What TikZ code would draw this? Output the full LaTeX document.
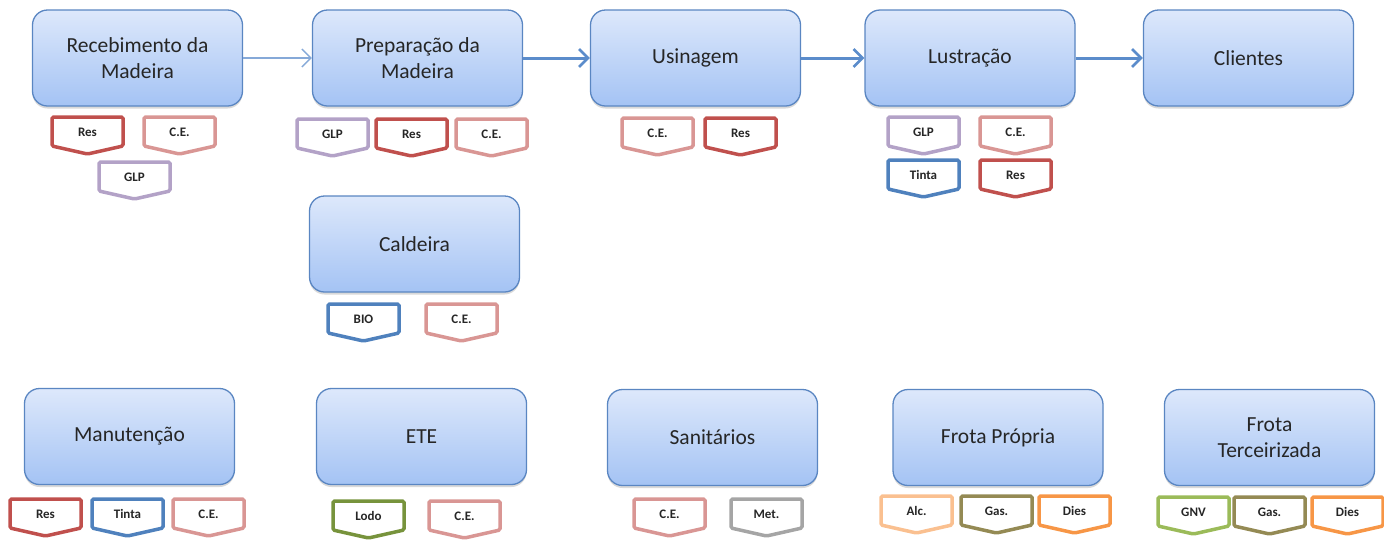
\documentclass[tikz,border=0pt]{standalone}
\usepackage{fontspec}
\setmainfont{Carlito}
\usetikzlibrary{arrows.meta,shadows}

\definecolor{boxedge}{HTML}{5A86C2}
\definecolor{boxtop}{HTML}{DDE8FB}
\definecolor{boxbot}{HTML}{A4C3F4}
\definecolor{flow}{HTML}{5B8CCB}
\definecolor{flowlight}{HTML}{86A9D8}
\definecolor{cRes}{HTML}{C0504D}
\definecolor{cCE}{HTML}{D99694}
\definecolor{cGLP}{HTML}{B3A2C7}
\definecolor{cBlue}{HTML}{4F81BD}
\definecolor{cLodo}{HTML}{77933C}
\definecolor{cMet}{HTML}{A5A5A5}
\definecolor{cAlc}{HTML}{FAC090}
\definecolor{cGas}{HTML}{948A54}
\definecolor{cDies}{HTML}{F79646}
\definecolor{cGNV}{HTML}{9BBB59}

\tikzset{
  process/.style={draw=boxedge, line width=1.3pt, rounded corners=15pt,
    top color=boxtop, bottom color=boxbot,
    minimum width=210pt, minimum height=96pt, align=center,
    font=\fontsize{21.5}{26}\selectfont, text=black!85,
    drop shadow={shadow xshift=0pt, shadow yshift=-2.5pt, opacity=.25, fill=black!60}},
  tagline/.style={line width=3.5pt, rounded corners=1.5pt, fill=white},
  tagtext/.style={font=\bfseries\fontsize{13}{15}\selectfont, text=black!85, inner sep=0pt},
  flowthin/.style={draw=flowlight, line width=1.2pt, -{Straight Barb[length=9pt,width=18pt,line width=1.4pt]}},
  flowthick/.style={draw=flow, line width=3pt, -{Straight Barb[length=9pt,width=18pt,line width=2.6pt]}}
}

% waste / energy tag: #1 name, #2 left x, #3 top y, #4 colour, #5 label
\newcommand\wastetag[5]{%
  \draw[tagline, draw=#4] (#2,#3) -- ++(71,0) -- ++(0,29) -- ++(-35.5,8) -- ++(-35.5,-8) -- cycle;
  \node[tagtext] (#1) at (#2+35.5,#3+15) {#5};
}

\begin{document}
\begin{tikzpicture}[x=1pt,y=-1pt]
\useasboundingbox (0,0) rectangle (1384,539);
\clip (0,0) rectangle (1384,539);

% process boxes
\node[process] (receb) at (137.5,58) {Recebimento da\\Madeira};
\node[process] (prep)  at (417.5,58) {Preparação da\\Madeira};
\node[process] (usin)  at (695.5,58) {Usinagem};
\node[process] (lust)  at (970,58)   {Lustração};
\node[process] (cli)   at (1248.5,58) {Clientes};
\node[process] (cald)  at (414.5,244) {Caldeira};
\node[process] (manut) at (129.5,436.5) {Manutenção};
\node[process] (ete)   at (421.5,436.5) {ETE};
\node[process] (sanit) at (712.5,437.5) {Sanitários};
\node[process] (frotap) at (998,437.5) {Frota Própria};
\node[process] (frotat) at (1269.5,437.5) {Frota\\Terceirizada};

% material flow
\draw[flowthin]  (receb.east) -- (prep.west);
\draw[flowthick] (prep.east) -- (usin.west);
\draw[flowthick] (usin.east) -- (lust.west);
\draw[flowthick] (lust.east) -- (cli.west);

% tags below each process
\wastetag{t1a}{52}{117}{cRes}{Res}
\wastetag{t1b}{144}{117}{cCE}{C.E.}
\wastetag{t1c}{99}{162}{cGLP}{GLP}

\wastetag{t2a}{297}{119}{cGLP}{GLP}
\wastetag{t2b}{376}{119}{cRes}{Res}
\wastetag{t2c}{456}{119}{cCE}{C.E.}

\wastetag{t3a}{622}{118}{cCE}{C.E.}
\wastetag{t3b}{705}{118}{cRes}{Res}

\wastetag{t4a}{888}{117}{cGLP}{GLP}
\wastetag{t4b}{980}{117}{cCE}{C.E.}
\wastetag{t4c}{888}{160}{cBlue}{Tinta}
\wastetag{t4d}{980}{160}{cRes}{Res}

\wastetag{t6a}{328}{304}{cBlue}{BIO}
\wastetag{t6b}{426}{304}{cCE}{C.E.}

\wastetag{t7a}{10}{499}{cRes}{Res}
\wastetag{t7b}{92}{499}{cBlue}{Tinta}
\wastetag{t7c}{173}{499}{cCE}{C.E.}

\wastetag{t8a}{333}{501}{cLodo}{Lodo}
\wastetag{t8b}{429}{501}{cCE}{C.E.}

\wastetag{t9a}{634}{499}{cCE}{C.E.}
\wastetag{t9b}{731}{499}{cMet}{Met.}

\wastetag{t10a}{881}{496}{cAlc}{Alc.}
\wastetag{t10b}{961}{496}{cGas}{Gas.}
\wastetag{t10c}{1039}{496}{cDies}{Dies}

\wastetag{t11a}{1158}{497}{cGNV}{GNV}
\wastetag{t11b}{1234}{497}{cGas}{Gas.}
\wastetag{t11c}{1312}{497}{cDies}{Dies}
\end{tikzpicture}
\end{document}
